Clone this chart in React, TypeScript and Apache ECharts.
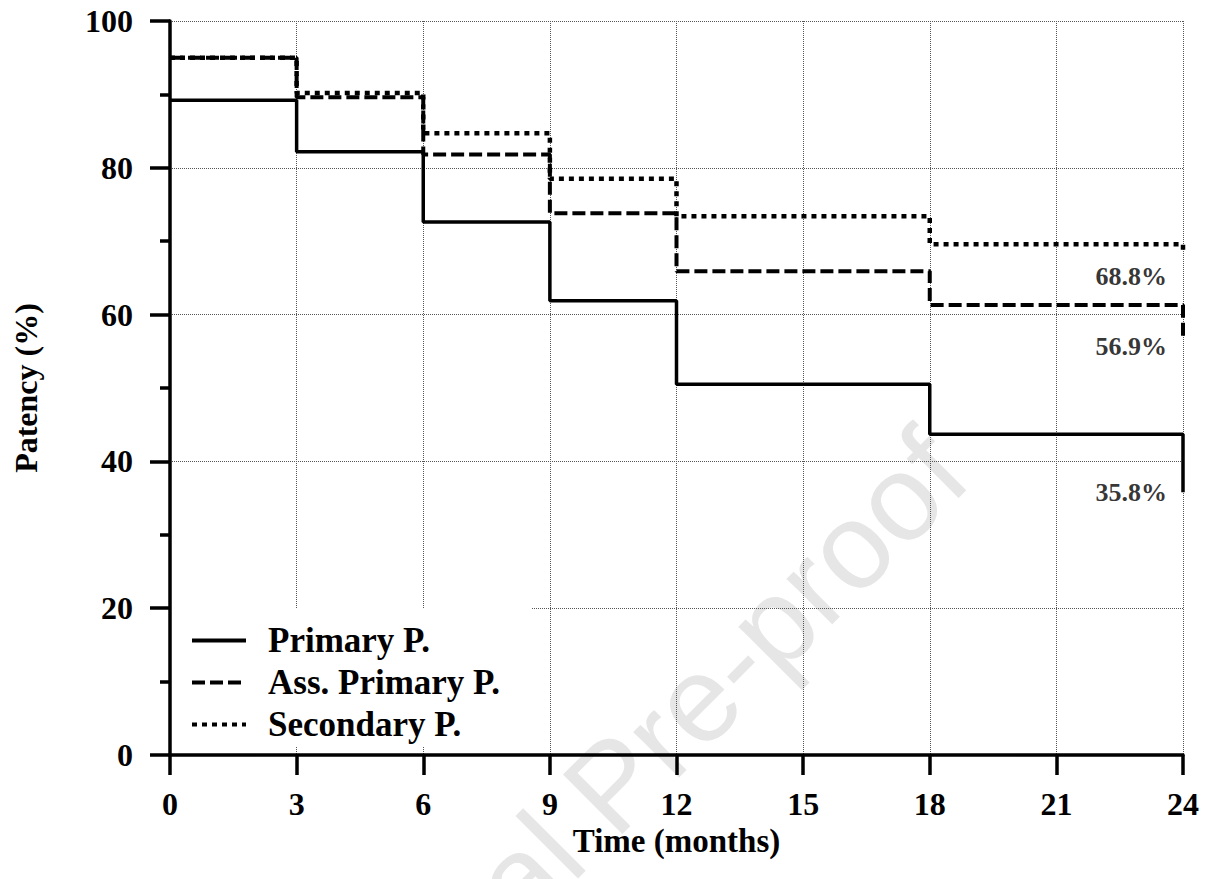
import React, { useEffect, useRef } from 'react';
import * as echarts from 'echarts';

// Kaplan-Meier step points (months, patency %)
const months = [0, 3, 6, 9, 12, 18, 24, 24];
const primary = [89.2, 82.2, 72.6, 61.9, 50.5, 43.7, 43.7, 35.8];
const assPrimary = [95.0, 89.6, 81.8, 73.8, 65.9, 61.3, 61.3, 56.9];
const secondary = [95.0, 90.2, 84.7, 78.5, 73.4, 69.6, 69.6, 68.8];

const seriesNames = ['Primary P.', 'Ass. Primary P.', 'Secondary P.'];

// end-of-follow-up annotations
const annLabels = ['68.8%', '56.9%', '35.8%'];
const annX = [24, 24, 24];
const annY = [65.2, 55.6, 35.7];

const xTicks = { min: 0, max: 24, interval: 3 };
const yTicks = { min: 0, max: 100, interval: 20 };

const FONT = '"Liberation Serif", "Times New Roman", serif';

export default function App() {
  const ref = useRef<HTMLDivElement>(null);

  useEffect(() => {
    if (!ref.current) return;
    const chart = echarts.init(ref.current, undefined, { renderer: 'svg' });

    const toPairs = (ys: number[]) => months.map((m, i) => [m, ys[i]]);
    const black = '#000';

    const option: any = {
      animation: false,
      backgroundColor: '#fff',
      graphic: [
        {
          type: 'text',
          z: -10,
          zlevel: 0,
          x: 612,
          y: 785,
          rotation: Math.PI / 4,
          silent: true,
          style: {
            text: 'Journal Pre-proof',
            fontSize: 122,
            fontFamily: '"Liberation Sans", Arial, sans-serif',
            fill: '#e6e6e6',
            textAlign: 'center',
            textVerticalAlign: 'middle',
          },
        },
      ],
      grid: { left: 170, right: 22, top: 21, bottom: 124 },
      legend: {
        show: true,
        orient: 'vertical',
        left: 172,
        top: 608,
        padding: [15, 32, 5, 18],
        backgroundColor: '#fff',
        itemWidth: 54,
        itemHeight: 33,
        itemGap: 7,
        data: seriesNames,
        itemStyle: { opacity: 0 },
        lineStyle: { color: black, width: 4 },
        textStyle: {
          fontFamily: FONT,
          fontWeight: 'bold',
          fontSize: 35,
          color: black,
          padding: [0, 0, 0, 17],
        },
      },
      xAxis: {
        type: 'value',
        min: xTicks.min,
        max: xTicks.max,
        interval: xTicks.interval,
        name: 'Time (months)',
        nameLocation: 'middle',
        nameGap: 59,
        nameTextStyle: { fontFamily: FONT, fontWeight: 'bold', fontSize: 33, color: black },
        axisLine: { show: true, onZero: false, lineStyle: { color: black, width: 3.5 } },
        axisTick: { show: true, inside: false, length: 20, lineStyle: { color: black, width: 3.5 } },
        axisLabel: { margin: 33, fontFamily: FONT, fontWeight: 'bold', fontSize: 32, color: black },
        splitLine: { show: true, lineStyle: { type: 'dotted', color: '#555', width: 1 } },
      },
      yAxis: {
        type: 'value',
        min: yTicks.min,
        max: yTicks.max,
        interval: yTicks.interval,
        name: 'Patency (%)',
        nameLocation: 'middle',
        nameGap: 128,
        nameTextStyle: { fontFamily: FONT, fontWeight: 'bold', fontSize: 32, color: black },
        axisLine: { show: true, onZero: false, lineStyle: { color: black, width: 3.5 } },
        axisTick: { show: true, inside: false, length: 20, lineStyle: { color: black, width: 3.5 } },
        minorTick: { show: true, splitNumber: 2, length: 10, lineStyle: { color: black, width: 3.5 } },
        minorSplitLine: { show: false },
        axisLabel: { margin: 37, fontFamily: FONT, fontWeight: 'bold', fontSize: 32, color: black },
        splitLine: { show: true, lineStyle: { type: 'dotted', color: '#555', width: 1 } },
      },
      series: [
        {
          name: seriesNames[2],
          type: 'line',
          step: 'end',
          z: 2,
          symbol: 'none',
          showSymbol: false,
          data: toPairs(secondary),
          itemStyle: { color: black },
          lineStyle: { color: black, width: 4.5, type: [5, 5], cap: 'butt' },
        },
        {
          name: seriesNames[1],
          type: 'line',
          step: 'end',
          z: 3,
          symbol: 'none',
          showSymbol: false,
          data: toPairs(assPrimary),
          itemStyle: { color: black },
          lineStyle: { color: black, width: 4, type: [13, 5], cap: 'butt' },
        },
        {
          name: seriesNames[0],
          type: 'line',
          step: 'end',
          z: 4,
          symbol: 'none',
          showSymbol: false,
          data: toPairs(primary),
          itemStyle: { color: black },
          lineStyle: { color: black, width: 3.5, type: 'solid' },
        },
        {
          name: 'annotations',
          type: 'scatter',
          symbolSize: 0,
          silent: true,
          z: 5,
          data: annY.map((y, i) => [annX[i], y]),
          label: {
            show: true,
            position: 'left',
            distance: 16,
            formatter: (p: any) => annLabels[p.dataIndex],
            fontFamily: FONT,
            fontWeight: 'bold',
            fontSize: 26,
            color: black,
          },
        },
      ],
    };

    chart.setOption(option);
    return () => chart.dispose();
  }, []);

  return (
    <div
      ref={ref}
      style={{ position: 'absolute', left: 0, top: 0, width: 1205, height: 879, background: '#fff' }}
    />
  );
}
